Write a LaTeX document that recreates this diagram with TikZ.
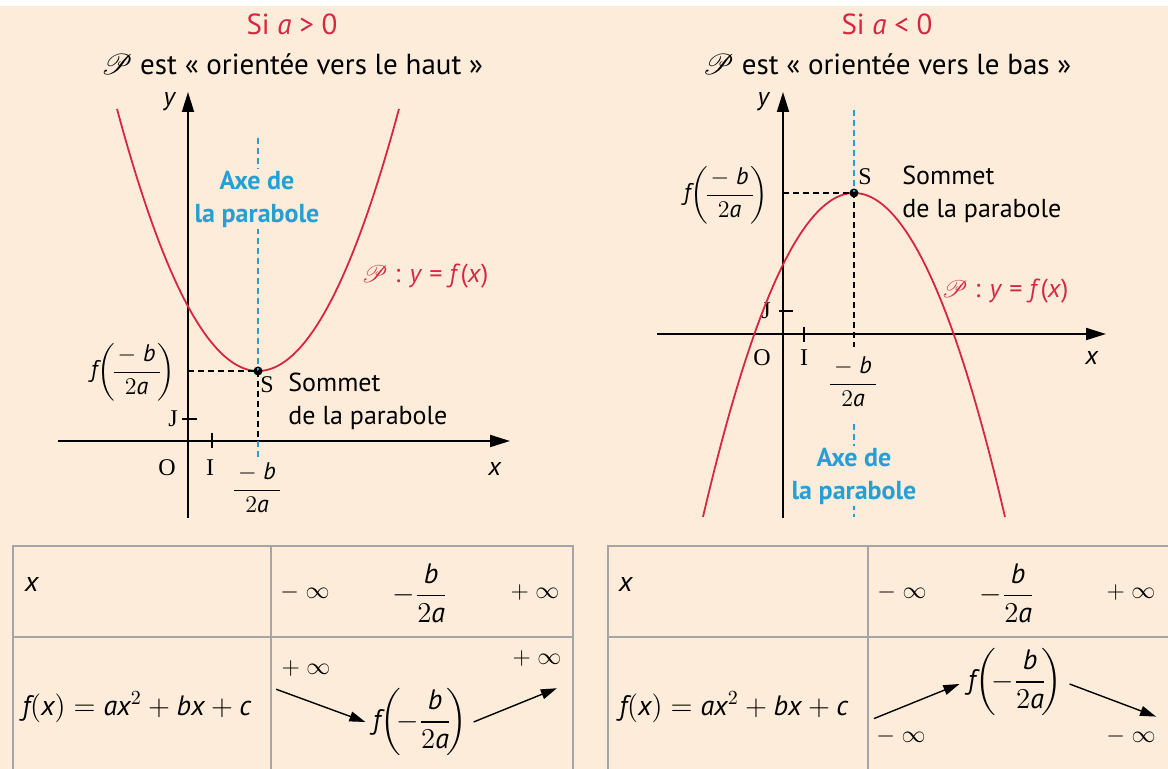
\documentclass[tikz,border=0pt]{standalone}
\usepackage{amsmath,amssymb,mathrsfs}
\usepackage{fontspec}
\setmainfont{PT Sans}
\newfontfamily\repfont{Liberation Serif}
\usepackage{tikz}
\usetikzlibrary{arrows.meta,positioning}
\usepackage{xcolor}
\definecolor{fond}{RGB}{252,236,217}
\definecolor{rouge}{RGB}{214,38,64}
\definecolor{bleu}{RGB}{38,160,212}
\definecolor{gris}{RGB}{165,165,165}
\newcommand{\vi}[1]{\textit{#1}}
\newcommand{\mbs}{\dfrac{\,-\;\vi{b}\,}{2\vi{a}}}
\newcommand{\mbt}{-\dfrac{\vi{b}}{2\vi{a}}}
\tikzset{
  axe/.style={line width=1pt,-{Triangle[length=10pt,width=6pt]}},
  trait/.style={line width=0.8pt},
  courbe/.style={rouge,line width=0.9pt},
  pointille/.style={line width=0.65pt,dash pattern=on 3pt off 2pt},
  axebleu/.style={bleu,line width=0.65pt,dash pattern=on 3pt off 2pt},
  repere/.style={font=\repfont\fontsize{12}{14}\selectfont},
  titre/.style={font=\fontsize{14.5}{17}\selectfont},
  bleutxt/.style={text=bleu,fill=fond,align=center,font=\bfseries\fontsize{13}{16.5}\selectfont},
  sommet/.style={circle,fill,inner sep=0pt,minimum size=4.5pt},
  frac/.style={font=\fontsize{12}{14}\selectfont},
  tab/.style={font=\fontsize{14}{16}\selectfont},
  infini/.style={font=\fontsize{13}{15}\selectfont},
  grille/.style={gris,line width=1pt},
  fleche/.style={line width=0.7pt,-{Triangle[length=8pt,width=5pt]}}
}
\begin{document}
\begin{tikzpicture}[x=0.5pt,y=-0.5pt,every node/.style={font=\fontsize{13}{16.5}\selectfont,inner sep=1pt}]
  \useasboundingbox (0,0) rectangle (1168,769);
  \fill[fond] (0,6) rectangle (1168,769);

  \node[titre,text=rouge] (siA) at (292,24) {Si \vi{a} > 0};
  \node[titre] (orA) at (292,64) {$\mathscr{P}$ est « orientée vers le haut »};
  \coordinate (OA) at (188,441);
  \draw[axe] (188,518) -- (188,92);
  \draw[axe] (58,441) -- (510,441);
  \draw[trait] (212,433) -- (212,448);
  \draw[trait] (182,419) -- (197,419);
  \node[repere] (lOA) at (167,468) {O};
  \node[repere] (lIA) at (210,468) {I};
  \node[repere] (lJA) at (173,419) {J};
  \node (yA) at (170,102) {\vi{y}};
  \node (xA) at (495,469) {\vi{x}};
  \draw[courbe] plot[domain=117:399,samples=80] (\x,{371-0.01318*(\x-258)*(\x-258)});
  \node[sommet] (SA) at (258,371) {};
  \draw[axebleu] (258,138) -- (SA.center);
  \draw[axebleu] (SA.center |- OA) -- (258,457);
  \node[bleutxt] (axeA) at (257,199) {Axe de\\la parabole};
  \draw[pointille] (SA.center -| OA) -- (SA.center) -- (SA.center |- OA);
  \node[frac,anchor=east] (fA) at (178,372) {$\vi{f}\!\left(\!\mbs\!\right)$};
  \node[frac] (bA) at (257,488) {$\mbs$};
  \node[repere] (lSA) at (267,385) {S};
  \node[anchor=west,align=left] (somA) at (286,401) {Sommet\\de la parabole};
  \node[text=rouge] (eqA) at (425,276) {$\mathscr{P}$ : \vi{y} = \vi{f}(\vi{x})};

  \node[titre,text=rouge] (siB) at (887,24) {Si \vi{a} < 0};
  \node[titre] (orB) at (887,64) {$\mathscr{P}$ est « orientée vers le bas »};
  \coordinate (OB) at (783,334);
  \draw[axe] (783,518) -- (783,92);
  \draw[axe] (657,334) -- (1106,334);
  \draw[trait] (804,327) -- (804,342);
  \draw[trait] (779,311) -- (793,311);
  \node[repere] (lOB) at (762,358) {O};
  \node[repere] (lIB) at (804,358) {I};
  \node[repere] (lJB) at (766,311) {J};
  \node (yB) at (764,102) {\vi{y}};
  \node (xB) at (1092,358) {\vi{x}};
  \draw[courbe] plot[domain=703:1005,samples=80] (\x,{193+0.01421*(\x-854)*(\x-854)});
  \node[sommet] (SB) at (854,193) {};
  \draw[axebleu] (854,110) -- (SB.center);
  \draw[axebleu] (854,424) -- (854,517);
  \node[bleutxt] (axeB) at (854,476) {Axe de\\la parabole};
  \draw[pointille] (SB.center -| OB) -- (SB.center) -- (854,347);
  \node[frac,anchor=east] (fB) at (771,195) {$\vi{f}\!\left(\!\mbs\!\right)$};
  \node[frac] (bB) at (853,382) {$\mbs$};
  \node[repere] (lSB) at (865,177) {S};
  \node[anchor=west,align=left] (somB) at (900,194) {Sommet\\de la parabole};
  \node[text=rouge] (eqB) at (1005,291) {$\mathscr{P}$ : \vi{y} = \vi{f}(\vi{x})};

  \draw[grille] (13,769) -- (13,546) -- (573,546) -- (573,769);
  \draw[grille] (13,637) -- (573,637);
  \draw[grille] (271,546) -- (271,769);
  \node[tab] (xTA) at (32,585) {\vi{x}};
  \node[infini] (mA) at (305,593) {$-\;\infty$};
  \node[tab] (cA) at (420,593) {$\mbt$};
  \node[infini] (pA) at (535,593) {$+\;\infty$};
  \node[tab,anchor=west] (fxA) at (20,707) {$\vi{f}(\vi{x}) = \vi{a}\vi{x}^2 + \vi{b}\vi{x} + \vi{c}$};
  \node[infini] (hautG) at (306,669) {$+\;\infty$};
  \node[tab] (minA) at (420,722) {$\vi{f}\!\left(\!\mbt\!\right)$};
  \node[infini] (hautD) at (537,659) {$+\;\infty$};
  \draw[fleche] ([shift={(-3,10)}]hautG.south west) -- ([shift={(-5,0)}]minA.west);
  \draw[fleche] ([shift={(4,0)}]minA.east) -- ([shift={(-7,19)}]hautD.south east);

  \draw[grille] (608,769) -- (608,546) -- (1168,546);
  \draw[grille] (608,637) -- (1168,637);
  \draw[grille] (868,546) -- (868,769);
  \node[tab] (xTB) at (626,585) {\vi{x}};
  \node[infini] (mB) at (902,593) {$-\;\infty$};
  \node[tab] (cB) at (1007,593) {$\mbt$};
  \node[infini] (pB) at (1131,593) {$+\;\infty$};
  \node[tab,anchor=west] (fxB) at (617,707) {$\vi{f}(\vi{x}) = \vi{a}\vi{x}^2 + \vi{b}\vi{x} + \vi{c}$};
  \node[infini] (basG) at (901,737) {$-\;\infty$};
  \node[tab] (maxB) at (1015,682) {$\vi{f}\!\left(\!\mbt\!\right)$};
  \node[infini] (basD) at (1131,737) {$-\;\infty$};
  \draw[fleche] ([shift={(0,-8)}]basG.north west) -- ([shift={(-6,2)}]maxB.west);
  \draw[fleche] ([shift={(5,2)}]maxB.east) -- ([shift={(-2,-10)}]basD.north east);
\end{tikzpicture}
\end{document}
